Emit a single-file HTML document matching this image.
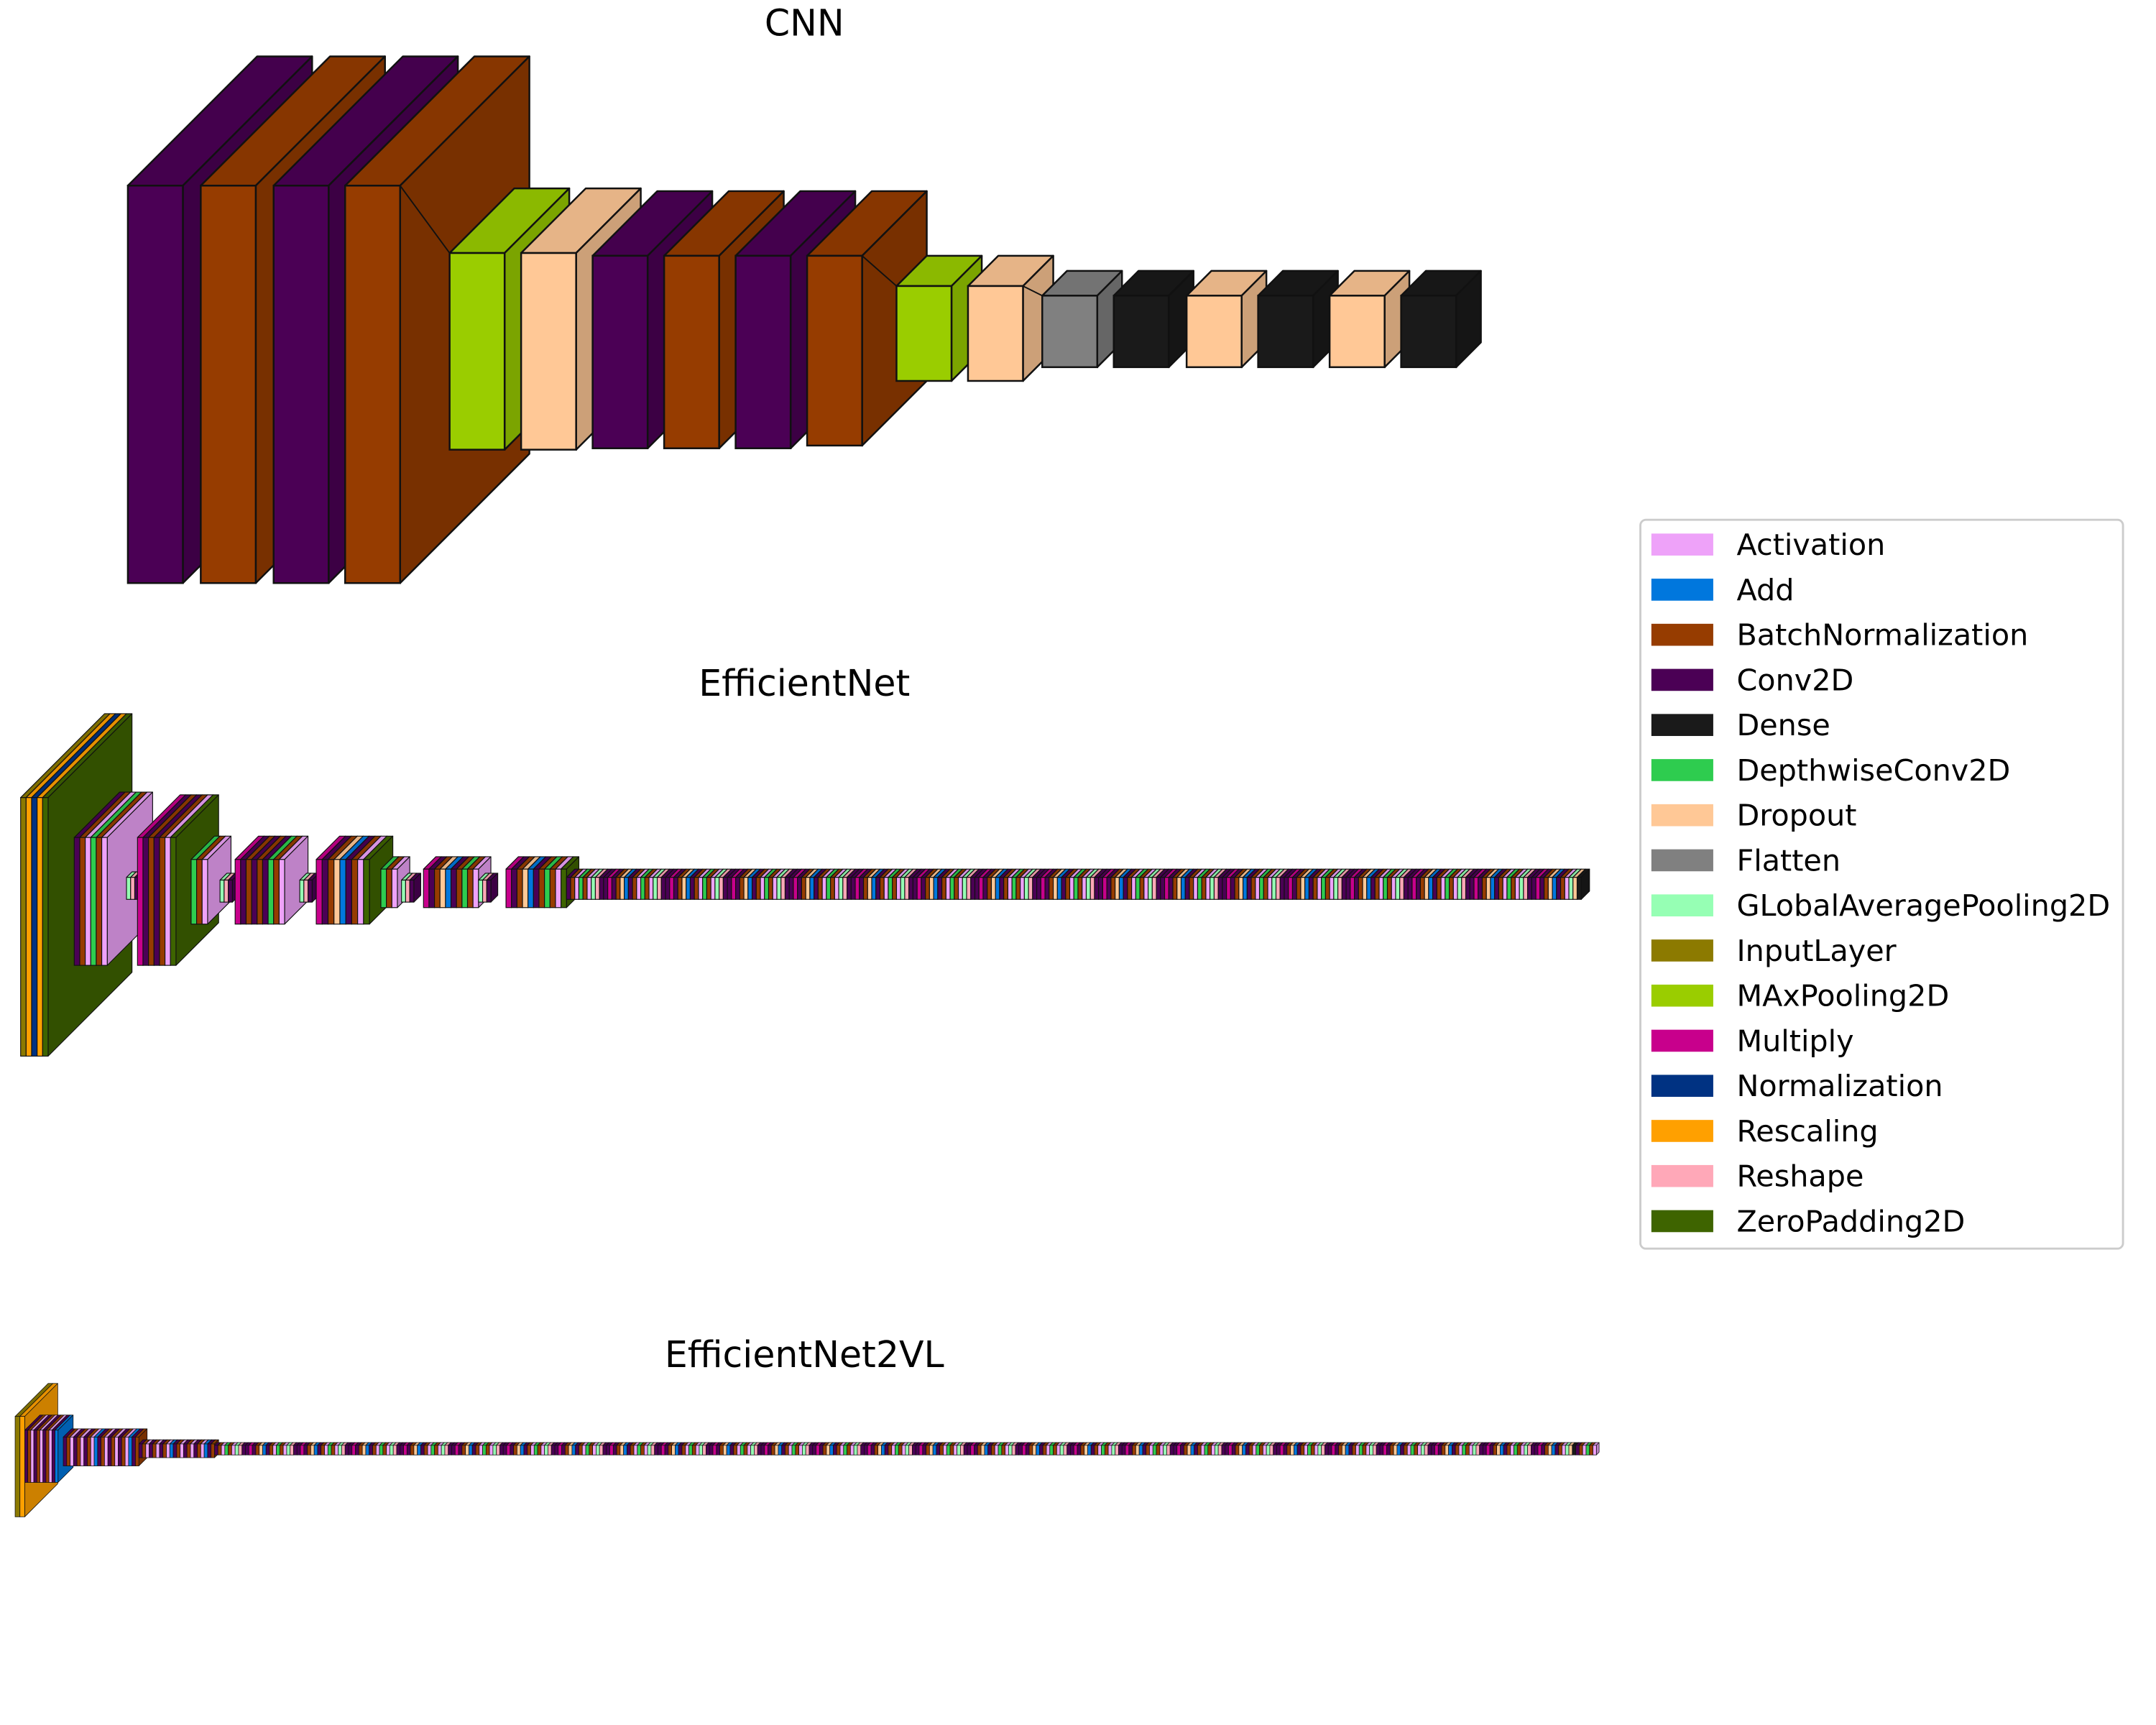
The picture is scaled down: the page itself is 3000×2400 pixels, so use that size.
<!DOCTYPE html>
<html><head><meta charset="utf-8"><style>
html,body{margin:0;padding:0;background:#fff;}
svg{display:block;}
text{font-family:"DejaVu Sans","Liberation Sans",sans-serif;fill:#000;}
</style></head><body>
<svg id="fig" xmlns="http://www.w3.org/2000/svg" width="3000" height="2400" viewBox="0 0 1568 1254.4">
<rect x="0" y="0" width="1568" height="1255" fill="#fff"/>
<text x="585" y="26" font-size="26.4" text-anchor="middle">CNN</text>
<text x="585" y="506" font-size="26.4" text-anchor="middle">EfficientNet</text>
<text x="585" y="994" font-size="26.4" text-anchor="middle">EfficientNet2VL</text>
<g id="cnn"></g>
<g id="eff"></g>
<g id="eff2"></g>
<g id="legend"></g>
</svg>
<script>
// Layer type categories (legend order)
const legendLabels = ["Activation","Add","BatchNormalization","Conv2D","Dense","DepthwiseConv2D","Dropout","Flatten","GLobalAveragePooling2D","InputLayer","MAxPooling2D","Multiply","Normalization","Rescaling","Reshape","ZeroPadding2D"];
const legendCodes  = ["a","d","b","c","n","w","o","f","g","i","m","x","z","r","s","p"];
const legendColors = ["#eea2f9","#0077dd","#963c00","#4b0055","#1a1a1a","#2ecc4f","#ffc896","#808080","#96ffb4","#8c7a00","#9acd00","#c8008c","#003282","#ffa000","#ffa8b8","#3e6400"];

// CNN layer sequence
const cnnTypes = ["c","b","c","b","m","o","c","b","c","b","m","o","f","n","o","n","o","n"];
const cnnX   = [93,146,199,251,327,379,431,483,535,587,652,704,758,810,863,915,967,1019];
const cnnTop = [135,135,135,135,184,184,186,186,186,186,208,208,215,215,215,215,215,215];
const cnnH   = [289,289,289,289,143,143,140,140,140,138,69,69,52,52,52,52,52,52];
const cnnD   = [94,94,94,94,47,47,47,47,47,47,22,22,18,18,18,18,18,18];

// EfficientNet groups: layer type strings
const effCodes = ["irzrp","cbawba","gsc","xcbcbap","wba","gsc","xcbcbcwba","gsc","xcbodcbap","wba","gsc","xcbodcbwba","gsc","xcbodcbwbap",
  "cbawbagsccxcbod".repeat(16)+"cbagon"];
const effX   = [15,54,92,100,139,160,171,218,230,277,292,308,348,368,412];
const effTop = [580,609,638,609,625,640,625,640,625,632,640,632,640,632,638];
const effH   = [188,93,16,93,47,16,47,16,47,28,16,28,16,28,16];
const effD   = [61,33,4,31,17,5,17,5,17,9,5,9,5,9,6];
const effW   = [4,4,3,4,4,3,4,3,4.3,4,3,4,3,4,3];

// EfficientNet2VL groups
const eff2Codes = ["ir","cbacbacbacd","cbacbacbad".repeat(2)+"cb","cbacbacbad".repeat(2)+"cb",
  "cbawbagsccxcbod".repeat(26)+"cbagon"+"cbawba"];
const eff2X   = [11,18,46,101,156];
const eff2Top = [1030,1040,1045,1050,1051];
const eff2H   = [73,38,21,10,7];
const eff2D   = [24,11,6,3,2];
const eff2W   = [3.5,2.2,2.5,2.5,2.5];

const NS="http://www.w3.org/2000/svg";
function colorOf(code){return legendColors[legendCodes.indexOf(code)];}
function shade(hex,f){const n=parseInt(hex.slice(1),16);const r=Math.round(((n>>16)&255)*f),g=Math.round(((n>>8)&255)*f),b=Math.round((n&255)*f);return "rgb("+r+","+g+","+b+")";}
function el(tag,attrs,parent){const e=document.createElementNS(NS,tag);for(const k in attrs)e.setAttribute(k,attrs[k]);parent.appendChild(e);return e;}
function box(parent,x,y,w,h,d,code,sw){
  const c=colorOf(code);
  const g=el("g",{},parent);
  
  
  el("polygon",{points:`${x},${y} ${x+d},${y-d} ${x+w+d},${y-d} ${x+w},${y}`,fill:shade(c,0.9),stroke:"#111","stroke-width":sw,"stroke-linejoin":"round"},g);
  el("polygon",{points:`${x+w},${y} ${x+w+d},${y-d} ${x+w+d},${y+h-d} ${x+w},${y+h}`,fill:shade(c,0.8),stroke:"#111","stroke-width":sw,"stroke-linejoin":"round"},g);
  el("rect",{x:x,y:y,width:w,height:h,fill:c,stroke:"#111","stroke-width":sw},g);
}
// CNN
const cnnG=document.getElementById("cnn");
for(let i=0;i<cnnTypes.length;i++){box(cnnG,cnnX[i],cnnTop[i],40,cnnH[i],cnnD[i],cnnTypes[i],1.3);}
[[3,4],[9,10],[11,12]].forEach(([a,b])=>{
  const l1=el("line",{x1:cnnX[a]+40,y1:cnnTop[a],x2:cnnX[b],y2:cnnTop[b],stroke:"#111","stroke-width":1},cnnG);
  
  
});
function drawGroups(parent,codes,xs,tops,hs,ds,ws,sw){
  for(let gi=0;gi<codes.length;gi++){
    const s=codes[gi];
    for(let k=0;k<s.length;k++){box(parent,xs[gi]+k*ws[gi],tops[gi],ws[gi],hs[gi],ds[gi],s[k],sw);}
  }
}
drawGroups(document.getElementById("eff"),effCodes,effX,effTop,effH,effD,effW,0.6);
drawGroups(document.getElementById("eff2"),eff2Codes,eff2X,eff2Top,eff2H,eff2D,eff2W,0.4);
// Legend
const lg=document.getElementById("legend");
const frame=el("rect",{x:1193,y:378,width:351,height:530,rx:4,fill:"#fff",stroke:"#cccccc","stroke-width":1.5},lg);


for(let i=0;i<legendLabels.length;i++){
  const y=388+i*32.8;
  const p=el("rect",{x:1201,y:y,width:45,height:16,fill:legendColors[i]},lg);
  
  
  const t=el("text",{x:1263,y:y+15.5,"font-size":"21.6"},lg);
  t.textContent=legendLabels[i];
  
  
}
</script>
</body></html>
